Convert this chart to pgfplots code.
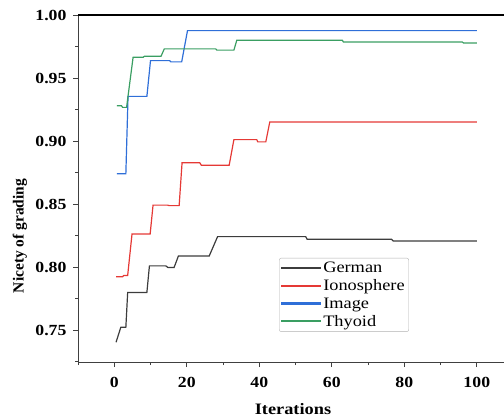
\documentclass[border=0pt]{standalone}
\usepackage{fontspec}
\setmainfont{Liberation Serif}
\newfontfamily\wide{Liberation Serif}[FakeStretch=1.15]
\usepackage{pgfplots}
\pgfplotsset{compat=1.18}
\definecolor{cGer}{HTML}{3C3C3C}
\definecolor{cIon}{HTML}{E53935}
\definecolor{cImg}{HTML}{2F6FD8}
\definecolor{cThy}{HTML}{3A9E62}
\begin{document}
\begin{tikzpicture}
\useasboundingbox (0,0) rectangle (504bp,418bp);
\begin{axis}[
  at={(78bp,56bp)}, anchor=south west,
  scale only axis, width=426bp, height=347bp,
  xmin=-10, xmax=107.5, ymin=0.7246, ymax=1.0,
  axis x line*=bottom, axis y line*=left,
  axis line style={draw=black!75, line width=0.9bp},
  tick align=outside,
  xtick={0,20,40,60,80,100}, minor xtick={-10,10,30,50,70,90},
  ytick={0.75,0.8,0.85,0.9,0.95,1.0},
  minor ytick={0.725,0.775,0.825,0.875,0.925,0.975},
  major tick length=5bp, minor tick length=3bp,
  tick style={draw=black!75, line width=0.8bp},
  yticklabel style={xshift=-3bp, /pgf/number format/.cd, fixed, fixed zerofill, precision=2},
  xticklabel style={yshift=-7bp},
  tick label style={font=\wide\bfseries\fontsize{15.5}{17}\selectfont},
  /pgf/number format/assume math mode=true,
  legend style={at={(0.472,0.30)}, anchor=north west, draw=black!30,
    rounded corners=2bp, font=\wide\fontsize{16}{18}\selectfont,
    row sep=1.5bp, inner sep=2bp},
  legend cell align=left,
  legend image code/.code={\path[#1, draw=none, sharp corners] (0bp,-0.9bp) rectangle (40bp,1.3bp);},
]
\addlegendimage{fill=cGer}
\addlegendimage{fill=cIon}
\addlegendimage{fill=cImg}
\addlegendimage{fill=cThy}
% German
\addplot[color=cGer, line width=1.2bp, forget plot] coordinates {
(0.5,0.7403) (1.8,0.7521) (3.2,0.7521) (3.7,0.7798) (9.0,0.7798) (9.7,0.8009)
(14.2,0.8009) (14.8,0.7996) (16.5,0.7996) (17.7,0.8088) (26.2,0.8088) (28.5,0.8241)
(52.8,0.8241) (53.2,0.8220) (76.5,0.8220) (76.9,0.8207) (100,0.8207)};
% Ionosphere
\addplot[color=cIon, line width=1.2bp, forget plot] coordinates {
(0.5,0.7922) (2.3,0.7922) (2.6,0.7933) (3.7,0.7933) (4.9,0.8262) (9.9,0.8262)
(10.7,0.8491) (14.7,0.8491) (15.2,0.8487) (17.9,0.8487) (18.7,0.8827) (23.6,0.8827)
(24.0,0.8808) (31.7,0.8808) (33.0,0.9011) (39.3,0.9011) (39.6,0.8993) (41.8,0.8993)
(42.9,0.9151) (100,0.9151)};
% Image
\addplot[color=cImg, line width=1.2bp, forget plot] coordinates {
(0.7,0.8740) (3.2,0.8740) (3.8,0.9354) (9.0,0.9354) (10.0,0.9638) (15.3,0.9638)
(15.6,0.9628) (18.6,0.9628) (20.2,0.9876) (100,0.9876)};
% Thyoid
\addplot[color=cThy, line width=1.2bp, forget plot] coordinates {
(0.7,0.9280) (2.0,0.9280) (2.3,0.9267) (3.4,0.9267) (5.2,0.9665) (8.0,0.9665)
(8.3,0.9672) (12.9,0.9672) (13.8,0.9731) (28.0,0.9731) (28.3,0.9721) (33.0,0.9721)
(33.8,0.9800) (62.9,0.9800) (63.2,0.9786) (96.0,0.9786) (96.3,0.9778) (100,0.9778)};
\legend{German, Ionosphere, Image, Thyoid}
\draw[black, line width=2bp] (rel axis cs:0,1) -- (rel axis cs:1,1);
\end{axis}
\node[anchor=base, font=\wide\bfseries\fontsize{16}{18}\selectfont] at (293bp,4bp) {Iterations};
\node[rotate=90, anchor=center, font=\bfseries\fontsize{15.5}{17}\selectfont] at (20bp,182bp) {Nicety of grading};
\end{tikzpicture}
\end{document}
